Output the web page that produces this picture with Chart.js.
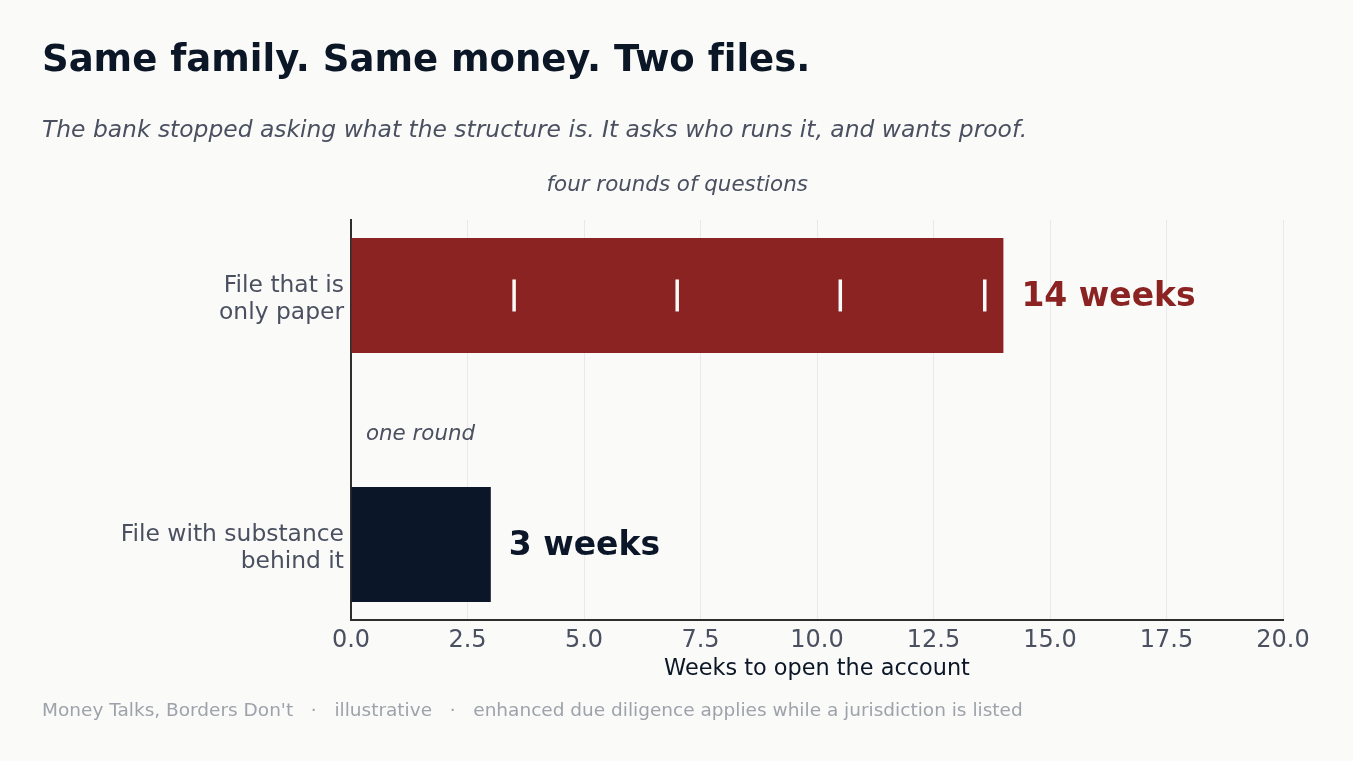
<!DOCTYPE html>
<html>
<head>
<meta charset="utf-8">
<script src="https://cdn.jsdelivr.net/npm/chart.js@4.4.1/dist/chart.umd.min.js"></script>
<style>
  html, body { margin: 0; padding: 0; background: #fafaf8; }
  #wrap { position: relative; width: 1353px; height: 761px; overflow: hidden; font-family: "DejaVu Sans", sans-serif; font-variant-ligatures: none; }
  #chart { position: absolute; left: 0; top: 0; }
  .t { position: absolute; left: 42px; white-space: pre; }
  #title { top: 40px; font-size: 37px; line-height: 37px; font-weight: bold; color: #0b1626; }
  #sub { top: 117.5px; font-size: 23.4px; line-height: 23.4px; font-style: italic; color: #4a5060; }
  #foot { top: 700.5px; font-size: 18.5px; line-height: 18.5px; color: #9ea2aa; }
</style>
</head>
<body>
<div id="wrap">
  <canvas id="chart" width="1353" height="761"></canvas>
  <div class="t" id="title">Same family. Same money. Two files.</div>
  <div class="t" id="sub">The bank stopped asking what the structure is. It asks who runs it, and wants proof.</div>
  <div class="t" id="foot">Money Talks, Borders Don't   ·   illustrative   ·   enhanced due diligence applies while a jurisdiction is listed</div>
</div>
<script>
// data
const categories = [['File that is', 'only paper'], ['File with substance', 'behind it']];
const weeks = [14, 3];
const valueLabels = ['14 weeks', '3 weeks'];
const barColors = ['#8b2323', '#0b1729'];
const roundMarks = [3.5, 7, 10.5, 13.6];   // one mark per round of questions
const xTickValues = [0, 2.5, 5, 7.5, 10, 12.5, 15, 17.5, 20];
const noteFour = 'four rounds of questions';
const noteOne = 'one round';

const FONT = '"DejaVu Sans", sans-serif';
const MUTED = '#4a5060';
const INK = '#0b1626';

// value labels and round notes
const notesPlugin = {
    id: 'notes',
    afterDatasetsDraw(chart) {
        const { ctx, scales: { x, y } } = chart;
        const bars = chart.getDatasetMeta(0).data;
        ctx.save();
        ctx.textBaseline = 'middle';
        ctx.textAlign = 'left';
        ctx.font = 'bold 33px ' + FONT;
        bars.forEach((bar, i) => {
            ctx.fillStyle = barColors[i];
            ctx.fillText(valueLabels[i], bar.x + 18, bar.y + 2);
        });
        ctx.font = 'italic 21.4px ' + FONT;
        ctx.fillStyle = MUTED;
        ctx.fillText(noteOne, x.getPixelForValue(0.32), y.getPixelForValue(0.552) + 1.5);
        ctx.textAlign = 'center';
        ctx.fillText(noteFour, x.getPixelForValue(weeks[0] / 2), y.getPixelForValue(-0.448) + 1.5);
        ctx.restore();
    }
};

const ctx = document.getElementById('chart').getContext('2d');
new Chart(ctx, {
    type: 'bar',
    data: {
        datasets: [
            {
                type: 'bar',
                data: weeks.map((w, i) => ({ x: w, y: i })),
                backgroundColor: barColors,
                borderWidth: 0,
                categoryPercentage: 1,
                barPercentage: 0.462,
                order: 2
            },
            {
                type: 'scatter',
                data: roundMarks.map(w => ({ x: w, y: 0 })),
                pointStyle: 'line',
                rotation: 90,
                radius: 16,
                borderColor: '#fafaf8',
                borderWidth: 3.5,
                order: 1
            }
        ]
    },
    options: {
        indexAxis: 'y',
        responsive: false,
        animation: false,
        events: [],
        layout: { padding: { top: 220, right: 70, left: 0, bottom: 0 } },
        plugins: {
            legend: { display: false },
            tooltip: { enabled: false }
        },
        scales: {
            x: {
                type: 'linear',
                position: 'bottom',
                min: 0,
                max: 20,
                offset: false,
                afterBuildTicks: s => { s.ticks = xTickValues.map(v => ({ value: v })); },
                afterFit: s => { s.height = 141; },
                ticks: {
                    color: MUTED,
                    padding: 6,
                    font: { family: FONT, size: 24 },
                    callback: v => Number(v).toFixed(1)
                },
                grid: { color: '#e9e9e6', lineWidth: 1, drawTicks: false, offset: false },
                border: { display: true, color: '#2e2e2e', width: 2 },
                title: {
                    display: true,
                    text: 'Weeks to open the account',
                    color: INK,
                    font: { family: FONT, size: 22.4 },
                    padding: { top: 0, bottom: 78.5 }
                }
            },
            y: {
                type: 'linear',
                position: 'left',
                reverse: true,
                min: -0.303,
                max: 1.303,
                offset: false,
                afterBuildTicks: s => { s.ticks = categories.map((c, i) => ({ value: i })); },
                afterFit: s => { s.width = 351; },
                ticks: {
                    color: MUTED,
                    padding: 7,
                    labelOffset: 4,
                    font: { family: FONT, size: 23.4, lineHeight: 1.17 },
                    callback: v => categories[v]
                },
                grid: { display: false, drawTicks: false, offset: false },
                border: { display: true, color: '#2e2e2e', width: 2 }
            }
        }
    },
    plugins: [notesPlugin]
});
</script>
</body>
</html>
